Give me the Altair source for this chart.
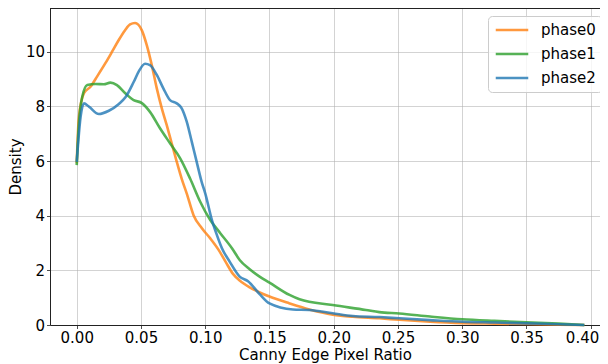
import altair as alt
import pandas as pd

series = ["phase0", "phase1", "phase2"]
colors = ["#ff7f0e", "#2ca02c", "#1f77b4"]

phase0_x = [0, 0.0017, 0.0056, 0.0107, 0.0158, 0.0223, 0.0275, 0.0327, 0.0375, 0.0415,
            0.0454, 0.0506, 0.0545, 0.0584, 0.0623, 0.0662, 0.070, 0.0739, 0.0778, 0.0817,
            0.0857, 0.0909, 0.0974, 0.1039, 0.1104, 0.116, 0.1216, 0.1268, 0.1346, 0.142,
            0.150, 0.1656, 0.181, 0.1992, 0.2148, 0.2355, 0.251, 0.275, 0.300, 0.325,
            0.350, 0.375, 0.395]
phase0_y = [5.92, 7.62, 8.48, 8.72, 9.09, 9.58, 10.0, 10.43, 10.78, 11.0,
            11.05, 10.79, 10.24, 9.51, 8.66, 7.93, 7.32, 6.65, 5.98, 5.35,
            4.8, 4.02, 3.54, 3.17, 2.75, 2.3, 1.87, 1.63, 1.38, 1.2,
            1.04, 0.79, 0.57, 0.38, 0.30, 0.245, 0.19, 0.12, 0.07, 0.05,
            0.035, 0.015, 0.0]

phase1_x = [0, 0.0017, 0.0043, 0.0082, 0.0146, 0.0211, 0.0262, 0.0313, 0.0378, 0.0443,
            0.0507, 0.057, 0.0648, 0.0726, 0.0805, 0.0883, 0.0961, 0.1039, 0.1117, 0.1208,
            0.1268, 0.1346, 0.1423, 0.150, 0.1656, 0.1734, 0.1992, 0.225, 0.2355, 0.251,
            0.275, 0.300, 0.325, 0.350, 0.375, 0.395]
phase1_y = [5.85, 7.38, 8.35, 8.78, 8.82, 8.81, 8.87, 8.78, 8.48, 8.23,
            8.12, 7.8, 7.2, 6.65, 6.1, 5.35, 4.51, 3.84, 3.36, 2.81,
            2.38, 2.04, 1.77, 1.55, 1.10, 0.94, 0.73, 0.55, 0.47, 0.42,
            0.31, 0.21, 0.15, 0.10, 0.05, 0.0]

phase2_x = [0, 0.003, 0.0056, 0.0095, 0.0172, 0.025, 0.0328, 0.0379, 0.0444, 0.0485,
            0.0532, 0.057, 0.0623, 0.0674, 0.0726, 0.0778, 0.0817, 0.0856, 0.0895, 0.0933,
            0.0972, 0.1, 0.1052, 0.1091, 0.113, 0.119, 0.1268, 0.1333, 0.1423, 0.150,
            0.1682, 0.181, 0.1992, 0.2148, 0.2355, 0.251, 0.275, 0.300, 0.325, 0.350,
            0.375, 0.395]
phase2_y = [5.97, 7.62, 8.11, 7.99, 7.72, 7.84, 8.09, 8.33, 8.9, 9.3,
            9.56, 9.51, 9.15, 8.66, 8.23, 8.11, 7.93, 7.44, 6.71, 5.98,
            5.24, 4.82, 3.84, 3.29, 2.81, 2.32, 1.77, 1.6, 1.13, 0.79,
            0.57, 0.55, 0.43, 0.33, 0.29, 0.245, 0.18, 0.12, 0.09, 0.06,
            0.03, 0.0]

x_ticks = [0.0, 0.05, 0.10, 0.15, 0.20, 0.25, 0.30, 0.35, 0.40]
y_ticks = [0, 2, 4, 6, 8, 10]

rows = []
for name, xs, ys in [("phase0", phase0_x, phase0_y),
                     ("phase1", phase1_x, phase1_y),
                     ("phase2", phase2_x, phase2_y)]:
    for i, (a, b) in enumerate(zip(xs, ys)):
        rows.append({"series": name, "x": a, "y": b, "i": i})
df = pd.DataFrame(rows)

FONT = "DejaVu Sans"
W, H = 550, 317

lines = alt.Chart(df).mark_line(strokeWidth=2.6, opacity=0.8, interpolate="monotone").encode(
    x=alt.X("x:Q",
            scale=alt.Scale(domain=[-0.0208, 0.4072], nice=False, zero=False),
            axis=alt.Axis(values=x_ticks, format=".2f", title="Canny Edge Pixel Ratio",
                          titleY=34, titleBaseline="alphabetic",
                          labelAlign={"condition": {"test": "datum.value >= 0.39", "value": "right"},
                                      "value": "center"},
                          labelOffset={"condition": {"test": "datum.value >= 0.39", "value": 8},
                                       "value": 0})),
    y=alt.Y("y:Q",
            scale=alt.Scale(domain=[0, 11.6], nice=False),
            axis=alt.Axis(values=y_ticks, format="d", title="Density", titlePadding=2)),
    color=alt.Color("series:N",
                    scale=alt.Scale(domain=series, range=colors),
                    legend=alt.Legend(title=None, orient="none", legendX=438, legendY=8)),
    order="i:Q",
)

# top spine (the right one lies beyond the picture's edge)
top_spine = alt.Chart(df).mark_rule(color="#222", strokeWidth=1).encode(
    x=alt.value(0), x2=alt.value(W), y=alt.value(0.5)
)

chart = alt.layer(lines, top_spine).properties(
    width=W,
    height=H,
    autosize=alt.AutoSizeParams(type="none"),
    padding={"left": 42, "top": 0, "right": 0, "bottom": 39},
).configure_view(
    stroke=None
).configure_axis(
    labelFont=FONT, titleFont=FONT, labelFontSize=15, titleFontSize=15,
    titleFontWeight="normal", labelColor="#000", titleColor="#000",
    grid=True, gridColor="#b0b0b0", gridOpacity=0.7, gridWidth=0.8,
    domain=True, domainColor="#222", domainWidth=1,
    tickColor="#222", tickSize=3.5, tickWidth=0.8, labelPadding=2,
).configure_legend(
    labelFont=FONT, labelFontSize=15, labelColor="#000",
    symbolType="M-2.5,0H2.5", symbolSize=169, symbolStrokeWidth=2.6,
    symbolOpacity=0.8, symbolOffset=10, labelOffset=21,
    fillColor="rgba(255,255,255,0.8)", strokeColor="#cccccc", cornerRadius=4,
    padding=6, rowPadding=8,
)

chart.save("out.html", embed_options={"renderer": "svg", "actions": False})
